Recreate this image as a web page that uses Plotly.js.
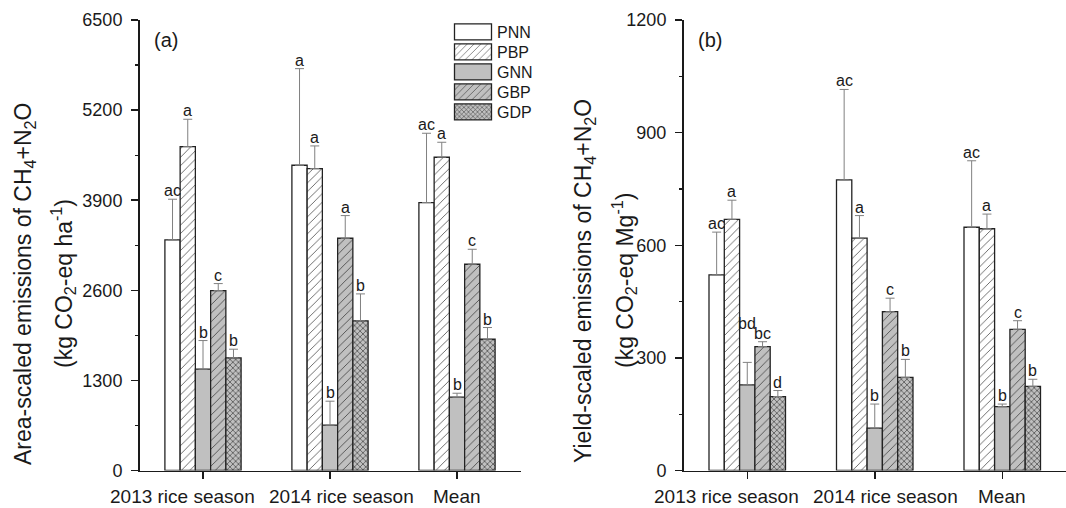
<!DOCTYPE html>
<html><head><meta charset="utf-8">
<script src="https://cdn.plot.ly/plotly-3.0.1.min.js"></script>
<style>html,body{margin:0;padding:0;background:#fff}#chart{width:1066px;height:508px}</style>
</head><body><div id="chart"></div>
<script>
// ---------------- data ----------------
const categories = ['2013 rice season', '2014 rice season', 'Mean'];
const treatments = ['PNN', 'PBP', 'GNN', 'GBP', 'GDP'];

// (a) Area-scaled emissions, kg CO2-eq ha-1 (rows follow treatments)
const areaValues = [
  [3327, 4404, 3866],
  [4673, 4356, 4520],
  [1462, 654, 1058],
  [2596, 3351, 2976],
  [1625, 2159, 1894]
];
const areaErrors = [
  [587, 1394, 1000],
  [395, 327, 216],
  [413, 346, 57],
  [101, 327, 216],
  [125, 389, 169]
];
const areaLetters = [
  ['ac', 'a', 'ac'],
  ['a', 'a', 'a'],
  ['b', 'b', 'b'],
  ['c', 'a', 'c'],
  ['b', 'b', 'b']
];

// (b) Yield-scaled emissions, kg CO2-eq Mg-1
const yieldValues = [
  [521, 774, 648],
  [669, 619, 644],
  [228, 113, 170],
  [330, 423, 376],
  [197, 248, 224]
];
const yieldErrors = [
  [114, 241, 177],
  [51, 60, 39],
  [60, 64, 7],
  [13, 36, 23],
  [16, 48, 19]
];
const yieldLetters = [
  ['ac', 'ac', 'ac'],
  ['a', 'a', 'a'],
  ['bd', 'b', 'b'],
  ['bc', 'c', 'c'],
  ['d', 'b', 'b']
];

const areaTicks = [0, 1300, 2600, 3900, 5200, 6500];
const yieldTicks = [0, 300, 600, 900, 1200];

// ---------------- styles ----------------
const FONT = '"Liberation Sans", Arial, Helvetica, sans-serif';
const INK = '#1a1a1a';
const styles = {
  PNN: {color: '#ffffff'},
  PBP: {color: '#ffffff', pattern: {shape: '/', fgcolor: '#555555', size: 6, solidity: 0.14}},
  GNN: {color: '#c0c0c0'},
  GBP: {color: '#c0c0c0', pattern: {shape: '/', fgcolor: '#444444', size: 6, solidity: 0.14}},
  GDP: {color: '#c0c0c0', pattern: {shape: 'x', fgcolor: '#3a3a3a', size: 4, solidity: 0.3}}
};
const barWidth = 0.12;
const xLabelShift = [-21, 11, 0];
const letterLift = {panel: 1, series: 2, cat: 0, px: 30};

function offsetX(i) {
  return categories.map((c, k) => k + (i - (treatments.length - 1) / 2) * barWidth);
}

const panels = [
  {vals: areaValues, errs: areaErrors, letters: areaLetters, xa: 'x', ya: 'y'},
  {vals: yieldValues, errs: yieldErrors, letters: yieldLetters, xa: 'x2', ya: 'y2'}
];

const traces = [];
const annotations = [];

panels.forEach((p, pi) => {
  treatments.forEach((t, i) => {
    const st = styles[t];
    const marker = {color: st.color, line: {color: '#222222', width: 1.3}};
    if (st.pattern) {
      marker.pattern = Object.assign({fillmode: 'replace', bgcolor: st.color}, st.pattern);
    }
    const xs = offsetX(i);
    traces.push({
      type: 'bar', name: t, x: xs, y: p.vals[i], width: barWidth,
      xaxis: p.xa, yaxis: p.ya, marker: marker,
      legendgroup: t, showlegend: pi === 0, hoverinfo: 'skip',
      error_y: {
        type: 'data', symmetric: false, array: p.errs[i],
        arrayminus: p.errs[i].map(() => 0),
        color: '#808080', thickness: 1, width: 4.5
      }
    });
    p.letters[i].forEach((L, k) => {
      let lift = 0;
      if (pi === letterLift.panel && i === letterLift.series && k === letterLift.cat) lift = letterLift.px;
      annotations.push({
        xref: p.xa, yref: p.ya, x: xs[k], y: p.vals[i][k] + p.errs[i][k],
        text: L, showarrow: false, xanchor: 'center', yanchor: 'bottom',
        yshift: -2 + lift, font: {family: FONT, size: 16, color: INK}
      });
    });
  });
  categories.forEach((c, k) => {
    annotations.push({
      xref: p.xa, yref: 'paper', x: k, y: 0.07382, xanchor: 'center', yanchor: 'top',
      yshift: -14, xshift: xLabelShift[k], text: c, showarrow: false,
      font: {family: FONT, size: 19, color: INK}
    });
  });
});

// panel letters
annotations.push({xref: 'paper', yref: 'paper', x: 152 / 1066, y: (508 - 40) / 508, xanchor: 'left', yanchor: 'middle',
  text: '(a)', showarrow: false, font: {family: FONT, size: 20, color: INK}});
annotations.push({xref: 'paper', yref: 'paper', x: 696 / 1066, y: (508 - 40) / 508, xanchor: 'left', yanchor: 'middle',
  text: '(b)', showarrow: false, font: {family: FONT, size: 20, color: INK}});

// y-axis titles (two lines each)
const yTitles = [
  {l1: 'Area-scaled emissions of CH<sub>4</sub>+N<sub>2</sub>O', l2: '(kg CO<sub>2</sub>-eq ha<sup>-1</sup>)', x1: 24, x2: 63, yc: 284},
  {l1: 'Yield-scaled emissions of CH<sub>4</sub>+N<sub>2</sub>O', l2: '(kg CO<sub>2</sub>-eq Mg<sup>-1</sup>)', x1: 584, x2: 624, yc: 281}
];
yTitles.forEach(tt => {
  [[tt.l1, tt.x1], [tt.l2, tt.x2]].forEach(([txt, xp]) => {
    annotations.push({xref: 'paper', yref: 'paper', x: xp / 1066, y: (508 - tt.yc) / 508,
      xanchor: 'center', yanchor: 'middle', textangle: -90, text: txt, showarrow: false,
      font: {family: FONT, size: 23, color: INK}});
  });
});

const yDomain = [37.5 / 508, 488 / 508];
function xAxis(domain, anchor) {
  return {
    domain: domain, anchor: anchor, range: [-0.5, 2.5], tickvals: [0, 1, 2],
    showticklabels: false, ticks: 'outside', ticklen: 7, tickwidth: 1.5, tickcolor: INK,
    showline: true, linecolor: INK, linewidth: 1.5, showgrid: false, zeroline: false, fixedrange: true
  };
}
function yAxis(range, ticks, minorStep, anchor) {
  return {
    domain: yDomain, anchor: anchor, range: range, tickvals: ticks,
    ticks: 'outside', ticklen: 7, tickwidth: 1.5, tickcolor: INK,
    minor: {dtick: minorStep, tick0: 0, ticks: 'outside', ticklen: 3.5, tickwidth: 1.2, tickcolor: INK, showgrid: false},
    showline: true, linecolor: INK, linewidth: 1.5, showgrid: false, zeroline: false,
    tickfont: {family: FONT, size: 18, color: INK}, ticklabelstandoff: 5, fixedrange: true
  };
}

const layout = {
  width: 1066, height: 508,
  margin: {l: 0, r: 0, t: 0, b: 0},
  paper_bgcolor: '#ffffff', plot_bgcolor: '#ffffff',
  font: {family: FONT, color: INK},
  barmode: 'overlay',
  showlegend: true,
  legend: {
    x: 449 / 1066, y: (508 - 15) / 508, xanchor: 'left', yanchor: 'top',
    bgcolor: 'rgba(0,0,0,0)', borderwidth: 0, itemwidth: 38, tracegroupgap: 0,
    font: {family: FONT, size: 16, color: INK}, itemclick: false, itemdoubleclick: false
  },
  xaxis: xAxis([139.5 / 1066, 520.5 / 1066], 'y'),
  yaxis: yAxis([0, 6500], areaTicks, 650, 'x'),
  xaxis2: xAxis([683.5 / 1066, 1], 'y2'),
  yaxis2: yAxis([0, 1200], yieldTicks, 150, 'x2'),
  annotations: annotations
};

const legendStep = 20;
Plotly.newPlot('chart', traces, layout, {displayModeBar: false, staticPlot: true}).then(gd => {
  gd.querySelectorAll('.legend .legendpoints path').forEach(pth => {
    pth.setAttribute('d', 'M18.5,8H-18.5V-8H18.5Z');
  });
  const items = gd.querySelectorAll('.legend .traces');
  if (items.length) {
    const m = /translate\(\s*([-\d.]+)[ ,]+([-\d.]+)/.exec(items[0].getAttribute('transform') || '');
    const x0 = m ? parseFloat(m[1]) : 0, y0 = m ? parseFloat(m[2]) : 0;
    items.forEach((it, j) => it.setAttribute('transform', 'translate(' + x0 + ',' + (y0 + j * legendStep) + ')'));
  }
});
</script>
</body></html>
